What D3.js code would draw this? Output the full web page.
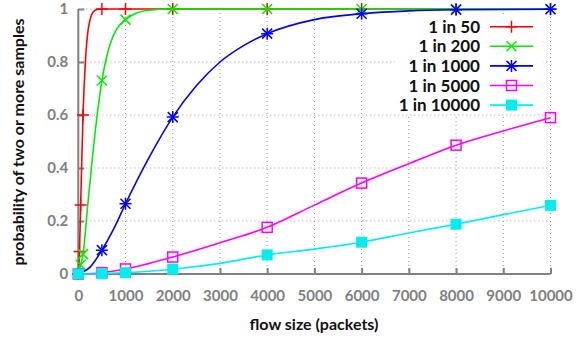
<!DOCTYPE html>
<html>
<head>
<meta charset="utf-8">
<script src="https://cdn.jsdelivr.net/npm/d3@7"></script>
<style>
  html, body { margin: 0; padding: 0; background: #fff; }
  svg { display: block; }
  text { font-family: Lato, "Open Sans", sans-serif; }
</style>
</head>
<body>
<svg id="chart" width="576" height="338"></svg>
<script>
// Flow sizes (packets) at which each curve is sampled
const xs50    = [0, 25, 50, 100, 150, 200, 250, 300, 400, 500, 1000, 2000, 4000, 6000, 8000, 10000];
const p50     = [0, 0.085, 0.26, 0.6, 0.8, 0.91, 0.96, 0.985, 0.998, 1, 1, 1, 1, 1, 1, 1];

const xs200   = [0, 50, 100, 200, 300, 400, 500, 600, 700, 800, 1000, 1200, 1500, 2000, 4000, 6000, 8000, 10000];
const p200    = [0, 0.035, 0.075, 0.26, 0.44, 0.6, 0.73, 0.82, 0.88, 0.92, 0.96, 0.982, 0.995, 1, 1, 1, 1, 1];

const xs1000  = [0, 250, 500, 750, 1000, 1500, 2000, 2500, 3000, 3500, 4000, 5000, 6000, 7000, 8000, 10000];
const p1000   = [0, 0.026, 0.09, 0.17, 0.265, 0.44, 0.592, 0.71, 0.8, 0.862, 0.907, 0.96, 0.982, 0.993, 0.997, 0.999];

const xs5000  = [0, 500, 1000, 2000, 3000, 4000, 5000, 6000, 7000, 8000, 9000, 10000];
const p5000   = [0, 0.005, 0.019, 0.064, 0.118, 0.176, 0.26, 0.343, 0.416, 0.486, 0.54, 0.59];

const xs10000 = [0, 500, 1000, 2000, 3000, 4000, 5000, 6000, 7000, 8000, 9000, 10000];
const p10000  = [0, 0.001, 0.005, 0.018, 0.04, 0.072, 0.094, 0.12, 0.155, 0.188, 0.224, 0.259];

// Flow sizes that carry a point symbol
const markerXs = [0, 25, 50, 100, 500, 1000, 2000, 4000, 6000, 8000, 10000];

const seriesNames   = ["1 in 50", "1 in 200", "1 in 1000", "1 in 5000", "1 in 10000"];
const seriesColors  = ["#ff0000", "#00ee00", "#0000ff", "#ff00ff", "#00eeee"];
const seriesSymbols = ["plus", "cross", "star", "square", "filledSquare"];
const seriesXs      = [xs50, xs200, xs1000, xs5000, xs10000];
const seriesYs      = [p50, p200, p1000, p5000, p10000];

const xTicks = [0, 1000, 2000, 3000, 4000, 5000, 6000, 7000, 8000, 9000, 10000];
const yTicks = [0, 0.2, 0.4, 0.6, 0.8, 1];

const svg = d3.select("#chart");
const plotLeft = 78.3, plotRight = 550.5, plotTop = 9, plotBottom = 274;

const x = d3.scaleLinear().domain([0, 10000]).range([plotLeft, plotRight]);
const y = d3.scaleLinear().domain([0, 1]).range([plotBottom, plotTop]);

const gray = "#808080";

// grid
const grid = svg.append("g");
grid.selectAll(".gx").data(xTicks.slice(1)).join("line")
  .attr("x1", d => x(d)).attr("x2", d => x(d))
  .attr("y1", plotBottom).attr("y2", plotTop)
  .attr("stroke", "#999").attr("stroke-width", 1).attr("stroke-dasharray", "1,3");
grid.selectAll(".gy").data(yTicks.slice(1)).join("line")
  .attr("x1", plotLeft).attr("x2", plotRight)
  .attr("y1", d => y(d)).attr("y2", d => y(d))
  .attr("stroke", "#999").attr("stroke-width", 1).attr("stroke-dasharray", "1,3");

// axes
const xAxis = d3.axisBottom(x).tickValues(xTicks).tickSize(-6).tickPadding(16).tickFormat(d3.format("d"));
const yAxis = d3.axisLeft(y).tickValues(yTicks).tickSize(-6).tickPadding(10).tickFormat(d => d === 0 || d === 1 ? String(d) : d3.format(".1f")(d));

const gx = svg.append("g").attr("transform", `translate(0,${plotBottom})`).call(xAxis);
const gy = svg.append("g").attr("transform", `translate(${plotLeft},0)`).call(yAxis);
[gx, gy].forEach(g => {
  g.select(".domain").attr("stroke", gray).attr("stroke-width", 2);
  g.selectAll(".tick line").attr("stroke", gray).attr("stroke-width", 2);
  g.selectAll(".tick text").attr("fill", gray).style("font-size", "15px")
    .style("font-family", "Lato, sans-serif").style("font-weight", "bold");
});
gx.select(".domain").attr("d", `M${plotLeft},0H${plotRight}`);
gy.select(".domain").attr("d", `M0,${plotBottom}V${plotTop}`);

// axis titles
svg.append("text")
  .attr("x", 314).attr("y", 330)
  .attr("text-anchor", "middle")
  .style("font-size", "16px").style("font-weight", "bold").attr("fill", "#111")
  .text("flow size (packets)");
svg.append("text")
  .attr("transform", "translate(24,142) rotate(-90)")
  .attr("text-anchor", "middle")
  .style("font-size", "16px").style("font-weight", "bold").attr("fill", "#111")
  .text("probability of two or more samples");

// symbols
function drawSymbol(g, kind, cx, cy, color) {
  const s = 6;
  if (kind === "plus" || kind === "star") {
    g.append("path").attr("d", `M${cx - s},${cy}H${cx + s}M${cx},${cy - s}V${cy + s}`)
      .attr("stroke", color).attr("stroke-width", 1.5).attr("fill", "none");
  }
  if (kind === "cross" || kind === "star") {
    const t = 5;
    g.append("path").attr("d", `M${cx - t},${cy - t}L${cx + t},${cy + t}M${cx - t},${cy + t}L${cx + t},${cy - t}`)
      .attr("stroke", color).attr("stroke-width", 1.5).attr("fill", "none");
  }
  if (kind === "square") {
    g.append("rect").attr("x", cx - 5).attr("y", cy - 5).attr("width", 10).attr("height", 10)
      .attr("stroke", color).attr("stroke-width", 1.5).attr("fill", "none");
  }
  if (kind === "filledSquare") {
    g.append("rect").attr("x", cx - 5.5).attr("y", cy - 5.5).attr("width", 11).attr("height", 11)
      .attr("fill", color);
  }
}

svg.append("clipPath").attr("id", "plotclip").append("rect")
  .attr("x", plotLeft - 1).attr("y", plotTop - 2).attr("width", plotRight - plotLeft + 2).attr("height", plotBottom - plotTop + 3);

const line = d3.line().x(d => x(d[0])).y(d => y(d[1])).curve(d3.curveMonotoneX);

seriesNames.forEach((name, i) => {
  const pts = seriesXs[i].map((v, j) => [v, seriesYs[i][j]]);
  const g = svg.append("g");
  g.append("path").datum(pts)
    .attr("d", line)
    .attr("clip-path", "url(#plotclip)")
    .attr("fill", "none").attr("stroke", seriesColors[i]).attr("stroke-width", 1.6);
  pts.filter(p => markerXs.includes(p[0])).forEach(p => {
    drawSymbol(g, seriesSymbols[i], x(p[0]), y(p[1]), seriesColors[i]);
  });
});

// legend with opaque background
const legend = svg.append("g");
legend.append("rect").attr("x", 395).attr("y", 17).attr("width", 148).attr("height", 97).attr("fill", "#fff");
seriesNames.forEach((name, i) => {
  const cy = 26.7 + i * 19.6;
  legend.append("text").attr("x", 480).attr("y", cy + 6)
    .attr("text-anchor", "end").style("font-size", "17px").style("font-weight", "bold")
    .attr("fill", "#111").text(name);
  legend.append("line").attr("x1", 490).attr("x2", 533).attr("y1", cy).attr("y2", cy)
    .attr("stroke", seriesColors[i]).attr("stroke-width", 1.6);
  drawSymbol(legend, seriesSymbols[i], 511.5, cy, seriesColors[i]);
});
</script>
</body>
</html>
